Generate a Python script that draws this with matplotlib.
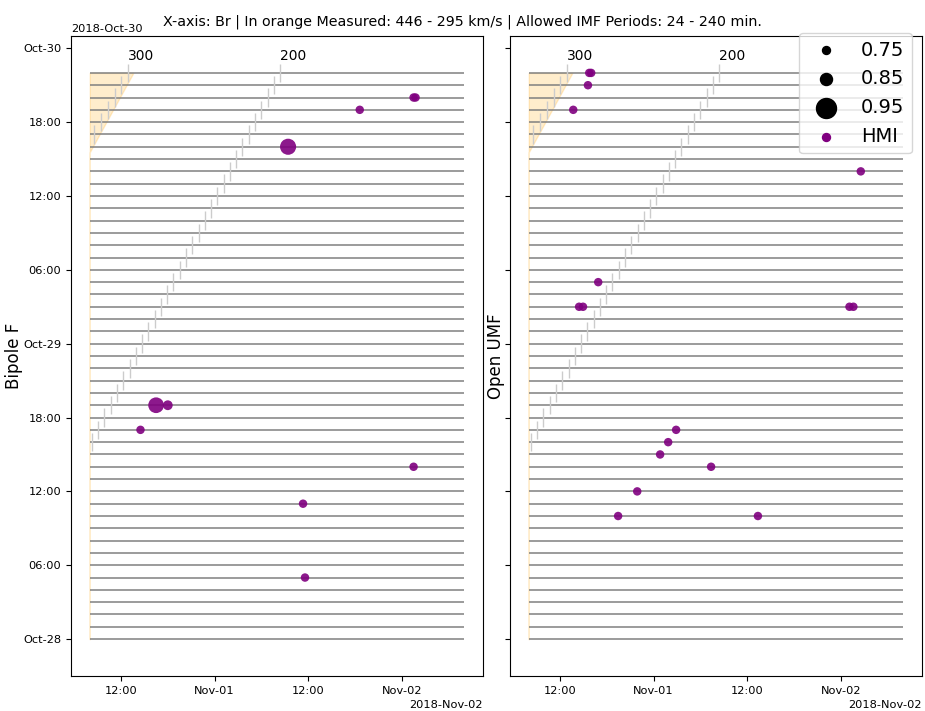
import numpy as np
import matplotlib
matplotlib.use("Agg")
import matplotlib.pyplot as plt
import matplotlib.dates as mdates

AU_KM = 1.496e8

# one Br trace per hour of source time
trace_start = "2018-10-28 00:00"
n_traces = 47
# arrival window on the x-axis
arrival_start = "2018-10-31 08:00"
arrival_end = "2018-11-02 08:00"

# spacecraft distance at trace_start and its radial speed
sc_r0_au = 0.3245
sc_vr_kms = -39.3

speed_marks = [300, 200]
measured_speeds = [446, 295]

# HMI matches: source time (y), arrival time (x), correlation
bipole_src = ["2018-10-29 19:00", "2018-10-29 20:00", "2018-10-29 20:00",
              "2018-10-29 16:00", "2018-10-28 19:00", "2018-10-28 19:00",
              "2018-10-28 17:00", "2018-10-28 14:00", "2018-10-28 11:00",
              "2018-10-28 05:00"]
bipole_arr = ["2018-11-01 18:36", "2018-11-02 01:30", "2018-11-02 01:45",
              "2018-11-01 09:25", "2018-10-31 16:30", "2018-10-31 18:00",
              "2018-10-31 14:30", "2018-11-02 01:30", "2018-11-01 11:20",
              "2018-11-01 11:35"]
bipole_corr = [0.76, 0.76, 0.76, 0.895, 0.89, 0.79, 0.76, 0.76, 0.76, 0.76]

umf_src = ["2018-10-29 22:00", "2018-10-29 22:00", "2018-10-29 21:00",
           "2018-10-29 19:00", "2018-10-29 14:00", "2018-10-29 05:00",
           "2018-10-29 03:00", "2018-10-29 03:00", "2018-10-29 03:00",
           "2018-10-29 03:00", "2018-10-28 17:00", "2018-10-28 16:00",
           "2018-10-28 15:00", "2018-10-28 14:00", "2018-10-28 12:00",
           "2018-10-28 10:00", "2018-10-28 10:00"]
umf_arr = ["2018-10-31 15:45", "2018-10-31 16:00", "2018-10-31 15:35",
           "2018-10-31 13:42", "2018-11-02 02:33", "2018-10-31 16:54",
           "2018-10-31 14:27", "2018-10-31 14:57", "2018-11-02 01:06",
           "2018-11-02 01:36", "2018-11-01 02:53", "2018-11-01 01:52",
           "2018-11-01 00:50", "2018-11-01 07:22", "2018-10-31 21:54",
           "2018-10-31 19:27", "2018-11-01 13:22"]
umf_corr = [0.76] * len(umf_src)

legend_corr = [0.75, 0.85, 0.95]
panel_names = ["Bipole F", "Open UMF"]


def corr_to_size(c):
    return np.interp(c, [0.70, 0.75, 0.85, 0.95, 1.0], [20, 33, 75, 207, 300])


def lag_hours(src_h, v):
    r_km = sc_r0_au * AU_KM + sc_vr_kms * 3600 * src_h
    return r_km / v / 3600.0


t0 = mdates.datestr2num(trace_start)
x0 = mdates.datestr2num(arrival_start)
x1 = mdates.datestr2num(arrival_end)
src_h = np.arange(n_traces)
trace_y = t0 + src_h / 24.0

fig = plt.figure(figsize=(9.25, 7.11), dpi=100)
ax1 = fig.add_axes([0.0768, 0.0492, 0.4454, 0.9002])
ax2 = fig.add_axes([0.5514, 0.0492, 0.4454, 0.9002], sharey=ax1)

matches = [(bipole_src, bipole_arr, bipole_corr), (umf_src, umf_arr, umf_corr)]

for ax, name, (src, arr, corr) in zip([ax1, ax2], panel_names, matches):
    # measured solar wind speed band
    th = np.linspace(0, n_traces - 1, 600)
    xa = t0 + (th + lag_hours(th, measured_speeds[0])) / 24.0
    xb = t0 + (th + lag_hours(th, measured_speeds[1])) / 24.0
    ax.fill_betweenx(t0 + th / 24.0, np.maximum(xa, x0), np.maximum(xb, x0),
                     color="orange", alpha=0.2)

    ax.hlines(trace_y, x0, x1, color="gray", lw=1.1)

    # constant-speed ballistic arrival marks
    for v in speed_marks:
        xs = t0 + (src_h + lag_hours(src_h, v)) / 24.0
        keep = (xs >= x0) & (xs <= x1)
        ax.vlines(xs[keep], trace_y[keep] - 0.75 / 24, trace_y[keep] + 0.75 / 24,
                  color="#cccccc", lw=1.0)
        ax.text(xs[keep][-1], trace_y[keep][-1] + 0.8 / 24, str(v),
                ha="left", va="bottom", fontsize=10)

    ax.scatter(mdates.datestr2num(arr), mdates.datestr2num(src),
               s=corr_to_size(np.array(corr)), color="purple", alpha=0.9,
               lw=0, zorder=3)

    ax.set_xlim(mdates.datestr2num("2018-10-31 05:36"),
                mdates.datestr2num("2018-11-02 10:24"))
    ax.xaxis.set_major_locator(mdates.HourLocator(byhour=[0, 12]))
    ax.xaxis.set_major_formatter(mdates.ConciseDateFormatter(ax.xaxis.get_major_locator()))
    ax.set_ylabel(name, fontsize=12, labelpad=0)
    ax.tick_params(labelsize=8.2)
    ax.xaxis.get_offset_text().set_fontsize(8.2)
    ax.yaxis.get_offset_text().set_fontsize(8.2)

ax1.set_ylim(mdates.datestr2num("2018-10-27 21:00"),
             mdates.datestr2num("2018-10-30 01:00"))
ax1.yaxis.set_major_locator(mdates.HourLocator(byhour=[0, 6, 12, 18]))
ax1.yaxis.set_major_formatter(mdates.ConciseDateFormatter(ax1.yaxis.get_major_locator()))
ax2.tick_params(labelleft=False)
ax2.yaxis.get_offset_text().set_visible(False)

handles = [ax2.scatter([], [], s=corr_to_size(c), color="k", label=f"{c:.2f}")
           for c in legend_corr]
handles.append(ax2.scatter([], [], s=33, color="purple", label="HMI"))
ax2.legend(handles=handles, loc="upper right", bbox_to_anchor=(0.976, 1.005),
           borderaxespad=0, fontsize=14, scatterpoints=1)

fig.suptitle("X-axis: Br | In orange Measured: 446 - 295 km/s | Allowed IMF Periods: 24 - 240 min.",
             fontsize=10.3, y=0.98)

fig.savefig("out.png", dpi=100)
